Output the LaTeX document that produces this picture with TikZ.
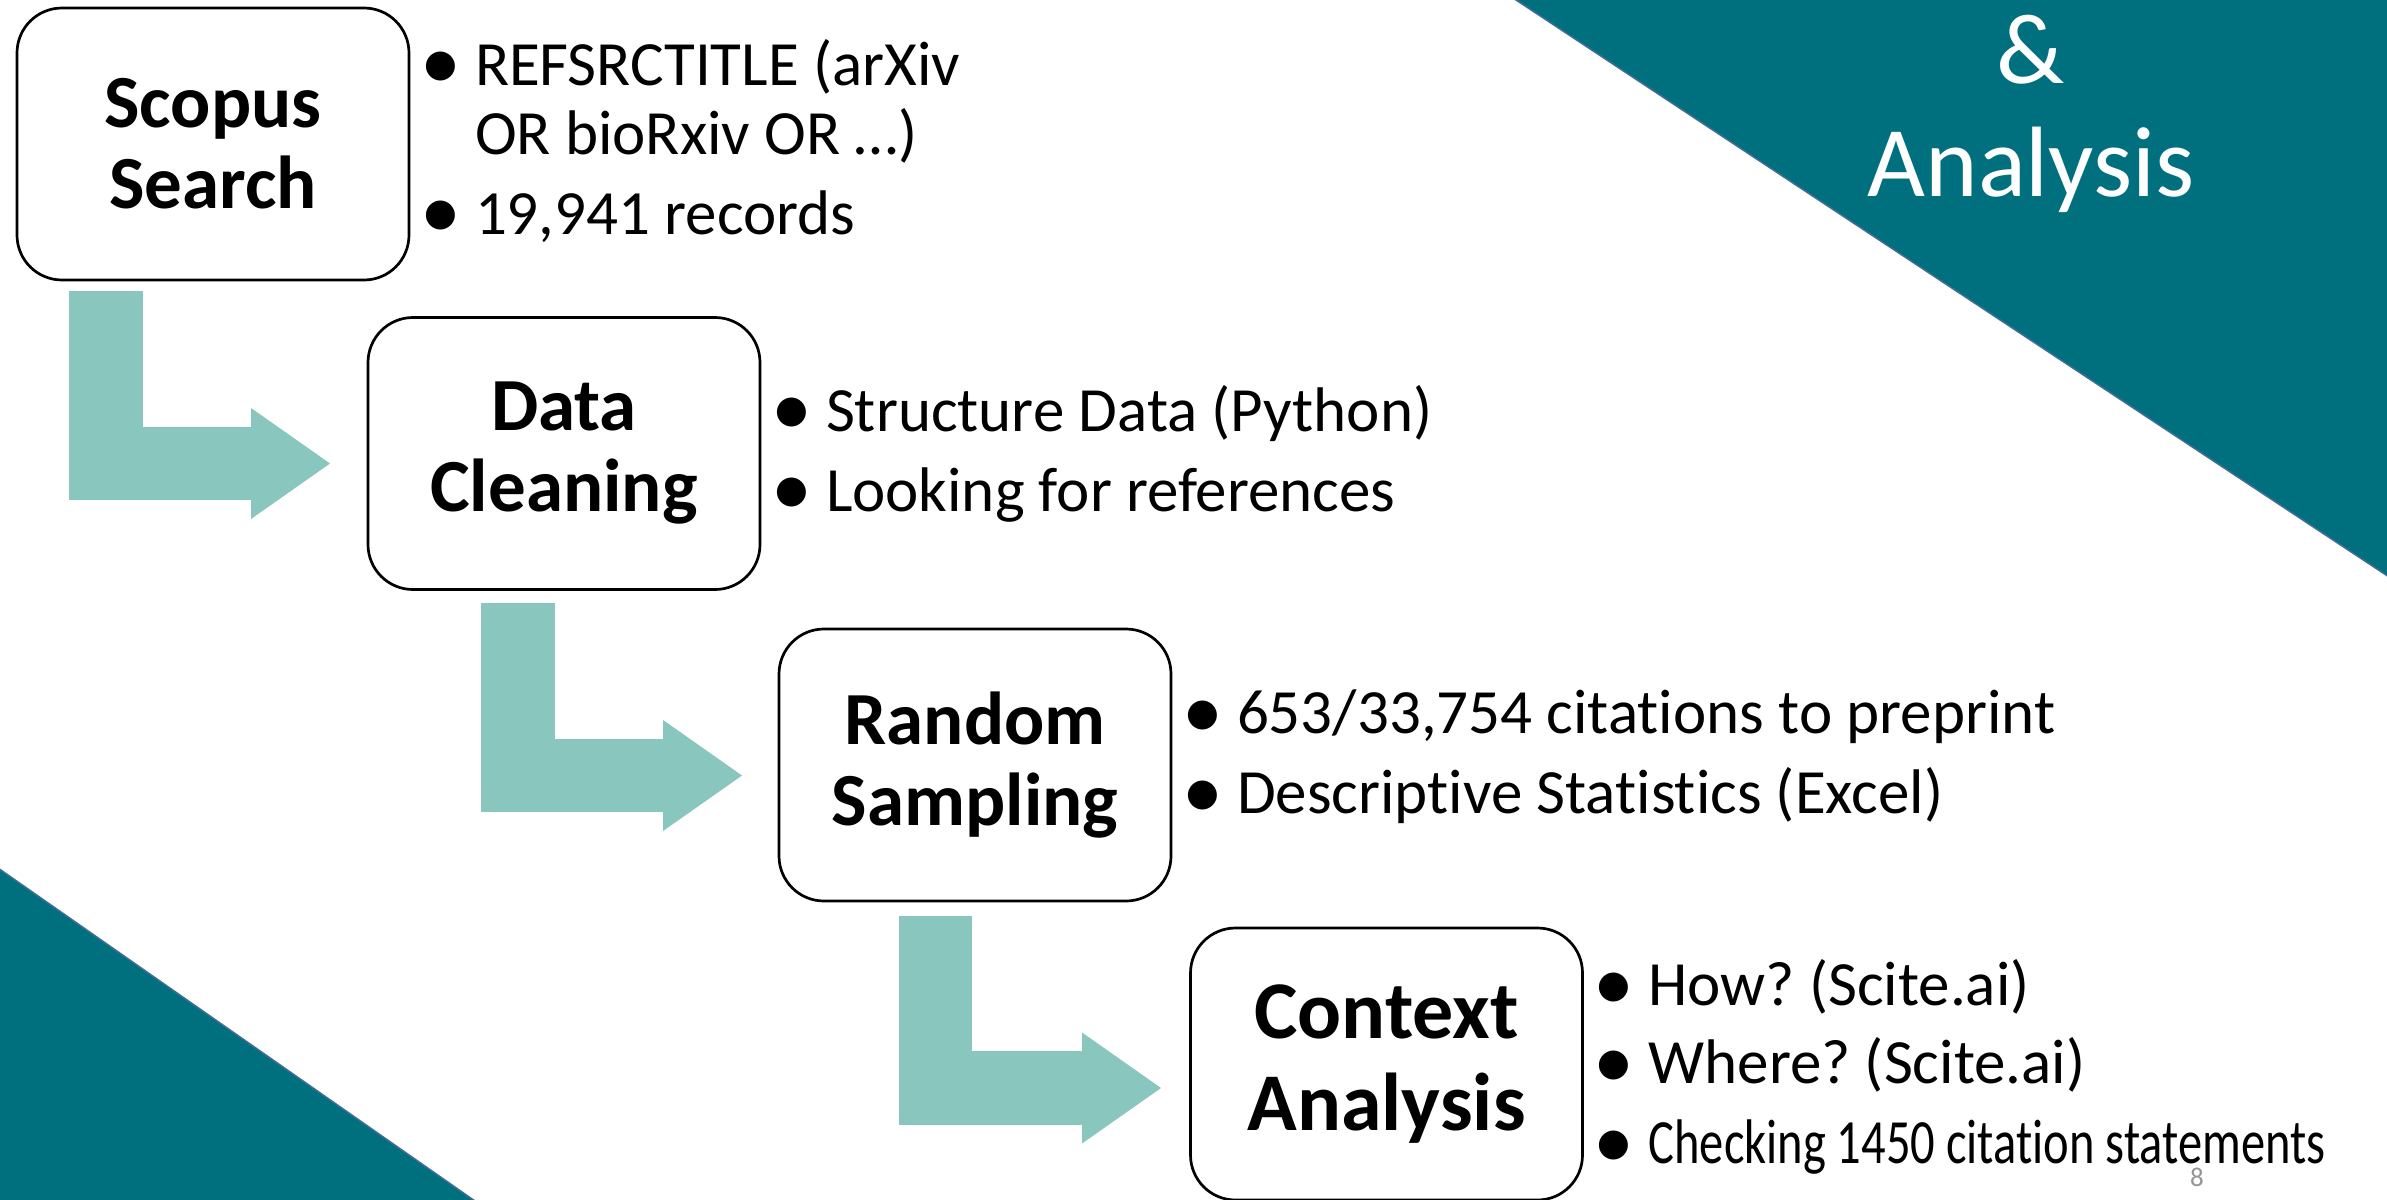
\documentclass[tikz,border=0pt]{standalone}
\usepackage{fontspec}
\usepackage{graphicx}
\setmainfont[Ligatures=NoCommon]{Carlito}
\usetikzlibrary{calc,arrows.meta}
\definecolor{tealbg}{RGB}{0,112,126}
\definecolor{tealedge}{RGB}{66,108,150}
\definecolor{flowc}{RGB}{136,198,190}
\definecolor{pagegray}{RGB}{150,150,150}
\tikzset{
  stepbox/.style={draw=black, line width=2.7pt, fill=white, rounded corners=45pt,
    minimum width=392pt, minimum height=272pt, inner sep=0pt, outer sep=0pt,
    align=center, font=\bfseries\fontsize{75}{81}\selectfont},
  bigflow/.style={draw=flowc, line width=73.5pt, line join=miter,
    -{Triangle[length=79pt,width=111pt,line width=0pt]}},
  blist/.style={anchor=west, inner sep=0pt, outer sep=0pt, align=left,
    font=\fontsize{63}{69}\selectfont},
  cornertri/.style={fill=tealbg, draw=tealedge, line width=1.5pt},
  titletext/.style={text=white, inner sep=0pt, anchor=base, font=\fontsize{100}{110}\selectfont},
}
\newcommand{\bitem}[1]{\strut\makebox[46pt][l]{\hspace*{-9pt}\raisebox{-4.5pt}{\scalebox{1.3}{\textbullet}}}#1}
\newcommand{\bcont}[1]{\strut\hspace*{46pt}#1}
\begin{document}
\frenchspacing
\begin{tikzpicture}[x=1pt,y=-1pt]
\useasboundingbox (0,0) rectangle (2387,1199);
\fill[white] (0,0) rectangle (2387,1199);
% corner triangles
\draw[cornertri] (1513,-2) -- (2389,-2) -- (2389,577) -- cycle;
\draw[cornertri] (-2,868) -- (475,1201) -- (-2,1201) -- cycle;
\node[titletext] (amp) at (2031,84) {\&};
\node[titletext] (ttl) at (2031,196) {Analysis};
% boxes
\node[stepbox] (b1) at (213,144) {Scopus\\Search};
\node[stepbox] (b2) at (564,453.5) {Data\\Cleaning};
\node[stepbox] (b3) at (975,765) {Random\\Sampling};
\node[stepbox, font=\bfseries\fontsize{82}{92}\selectfont] (b4) at (1386.5,1064) {Context\\Analysis};
% flow arrows
\draw[bigflow] ($(b1.south west)+(89,11)$) |- ($(b2.west)+(-38,10)$);
\draw[bigflow] ($(b2.south west)+(150,13.5)$) |- ($(b3.west)+(-37,10.5)$);
\draw[bigflow] ($(b3.south west)+(156.5,15)$) |- ($(b4.west)+(-29.5,24)$);
% bullet lists
\node[blist] (l1) at ($(b1.east)+(20,2)$) {\bitem{REFSRCTITLE (arXiv}\\\bcont{OR bioRxiv OR …)}\\[11pt]\bitem{19,941 records}};
\node[blist] (l2) at ($(b2.east)+(20,4)$) {\bitem{Structure Data (Python)}\\[11pt]\bitem{Looking for references}};
\node[blist] (l3) at ($(b3.east)+(20,-5)$) {\bitem{653/33,754 citations to preprint}\\[11pt]\bitem{Descriptive Statistics (Excel)}};
\node[blist] (l4) at ($(b4.east)+(20,7)$) {\bitem{How? (Scite.ai)}\\[9pt]\bitem{Where? (Scite.ai)}\\[11pt]\bitem{\scalebox{0.77}[1]{Checking 1450 citation statements}}};
% page number
\node[anchor=base, inner sep=0pt, text=pagegray, font=\fontsize{27}{30}\selectfont] (pg) at (2197,1186) {8};
\end{tikzpicture}
\end{document}
